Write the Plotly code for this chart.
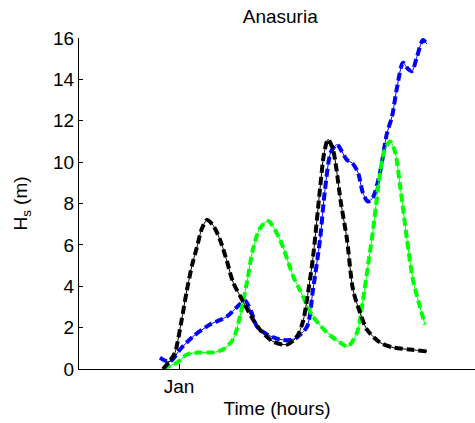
import plotly.graph_objects as go

# Significant wave height series (time in hours, Hs in metres)
black_t = [3, 10, 15, 21, 27, 32, 37, 42, 47, 53, 60, 67, 73, 82, 93, 100, 113, 127, 137, 143, 147, 153, 160, 164, 168, 173, 181, 187, 193, 200, 207, 220, 233, 250, 267]
black_hs = [0.0, 0.4, 0.8, 2.2, 3.84, 5.0, 5.9, 6.8, 7.2, 6.95, 6.25, 5.2, 4.2, 3.36, 2.4, 1.9, 1.33, 1.18, 1.57, 2.3, 3.36, 5.4, 8.7, 10.4, 11.1, 10.6, 8.0, 6.26, 3.84, 2.73, 1.9, 1.28, 1.04, 0.94, 0.85]

blue_t = [0, 5, 10, 15, 20, 33, 50, 67, 77, 85, 91, 97, 107, 120, 130, 136, 147, 153, 160, 165, 171, 177, 182, 187, 192, 198, 203, 208, 213, 220, 227, 232, 237, 243, 248, 252, 257, 263, 267]
blue_hs = [0.55, 0.4, 0.36, 0.6, 0.94, 1.57, 2.15, 2.54, 3.0, 3.3, 2.8, 2.05, 1.67, 1.43, 1.4, 1.5, 2.05, 3.84, 6.25, 8.67, 10.5, 10.85, 10.5, 10.1, 9.97, 9.5, 8.5, 8.1, 8.3, 9.5, 11.4, 12.2, 13.6, 14.8, 14.5, 14.4, 15.1, 15.9, 15.7]

green_t = [3, 10, 17, 27, 40, 53, 63, 73, 80, 87, 93, 100, 108, 120, 133, 140, 153, 167, 180, 188, 197, 203, 208, 213, 218, 224, 230, 235, 240, 247, 253, 260, 265]
green_hs = [0.0, 0.15, 0.3, 0.7, 0.8, 0.8, 0.94, 1.43, 2.54, 4.2, 5.8, 6.8, 7.15, 6.25, 4.5, 3.8, 2.54, 1.76, 1.28, 1.09, 1.76, 3.36, 5.0, 6.7, 8.7, 10.5, 11.0, 10.5, 8.9, 6.25, 4.3, 3.0, 2.15]

x_tick_vals = [19]
x_tick_text = ["Jan"]
y_tick_vals = [0, 2, 4, 6, 8, 10, 12, 14, 16]

series = [
    (blue_t, blue_hs, "#0000ff"),
    (green_t, green_hs, "#00ff00"),
    (black_t, black_hs, "#000000"),
]

fig = go.Figure()
for t, hs, color in series:
    # thin solid trace underneath
    fig.add_trace(go.Scatter(x=t, y=hs, mode="lines",
                             line=dict(color=color, width=1, shape="spline", smoothing=0.8),
                             hoverinfo="skip", showlegend=False))
    # thick dashed trace on top
    fig.add_trace(go.Scatter(x=t, y=hs, mode="lines",
                             line=dict(color=color, width=4, dash="8px,4px", shape="spline", smoothing=0.8),
                             showlegend=False))

font_family = "Liberation Sans, Arial, sans-serif"

fig.update_layout(
    width=475, height=423,
    margin=dict(l=79, r=0, t=38, b=54),
    paper_bgcolor="white", plot_bgcolor="white",
    font=dict(family=font_family, size=19, color="black"),
    title=dict(text="Anasuria", x=0.59, xanchor="center", y=0.962, yanchor="middle",
               font=dict(family=font_family, size=19, color="black")),
    xaxis=dict(range=[-81, 315], showgrid=False, zeroline=False,
               showline=True, linecolor="black", linewidth=1,
               ticks="inside", ticklen=5, tickcolor="black",
               tickvals=x_tick_vals, ticktext=x_tick_text,
               tickfont=dict(size=19),
               title=dict(text="Time (hours)", font=dict(size=19), standoff=5)),
    yaxis=dict(range=[0, 16], showgrid=False, zeroline=False,
               showline=True, linecolor="black", linewidth=1,
               ticks="inside", ticklen=4, tickcolor="black",
               tickvals=y_tick_vals, tickfont=dict(size=19),
               title=dict(text="H<sub>s</sub> (m)", font=dict(size=19), standoff=20)),
)

fig.write_html("out.html")
